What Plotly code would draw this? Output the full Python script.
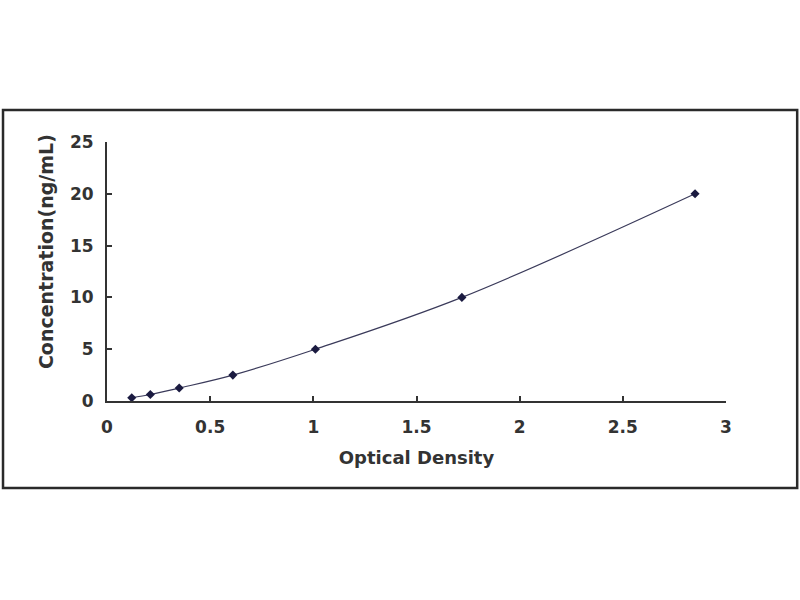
import plotly.graph_objects as go

# standard curve points
optical_density = [0.12, 0.21, 0.35, 0.61, 1.01, 1.72, 2.85]
concentration = [0.312, 0.625, 1.25, 2.5, 5, 10, 20]

x_ticks = [0, 0.5, 1, 1.5, 2, 2.5, 3]
x_tick_text = ["0", "0.5", "1", "1.5", "2", "2.5", "3"]
y_ticks = [0, 5, 10, 15, 20, 25]

font_family = "DejaVu Sans, Arial, sans-serif"
text_color = "#333333"

fig = go.Figure()
fig.add_trace(go.Scatter(
    x=optical_density, y=concentration,
    mode="lines+markers",
    line=dict(color="#3a3a5a", width=1.2, shape="spline"),
    marker=dict(symbol="diamond", size=7, color="#1a1a40"),
    showlegend=False,
))

axis_style = dict(
    showline=True, linecolor=text_color, linewidth=2,
    ticks="inside", ticklen=5, tickcolor=text_color, tickwidth=1.5,
    showgrid=False, zeroline=False,
    tickfont=dict(family=font_family, size=17, color=text_color, weight="bold"),
)

fig.update_xaxes(
    range=[0, 3], tickvals=x_ticks, ticktext=x_tick_text,
    title=dict(text="Optical Density", standoff=15,
               font=dict(family=font_family, size=18, color=text_color, weight="bold")),
    ticklabelstandoff=10,
    **axis_style,
)
fig.update_yaxes(
    range=[0, 25], tickvals=y_ticks,
    ticklabelstandoff=8,
    **axis_style,
)

# y title placed by hand, it sits a bit above the plot centre
fig.add_annotation(
    text="Concentration(ng/mL)", textangle=-90,
    xref="paper", yref="paper", x=-0.0985, y=0.575,
    xanchor="center", yanchor="middle",
    showarrow=False,
    font=dict(family=font_family, size=19, color=text_color, weight="bold"),
)

# outer frame around the whole chart
fig.add_shape(type="rect", xref="paper", yref="paper",
              x0=-0.168, x1=1.115, y0=-0.336, y1=1.124,
              line=dict(color="#2a2a2a", width=2.5))

fig.update_layout(
    width=800, height=600,
    margin=dict(l=107, r=74, t=142, b=199),
    paper_bgcolor="white", plot_bgcolor="white",
)

fig.write_html("out.html", config={"displayModeBar": False},
               post_script="document.body.style.margin='0';")
